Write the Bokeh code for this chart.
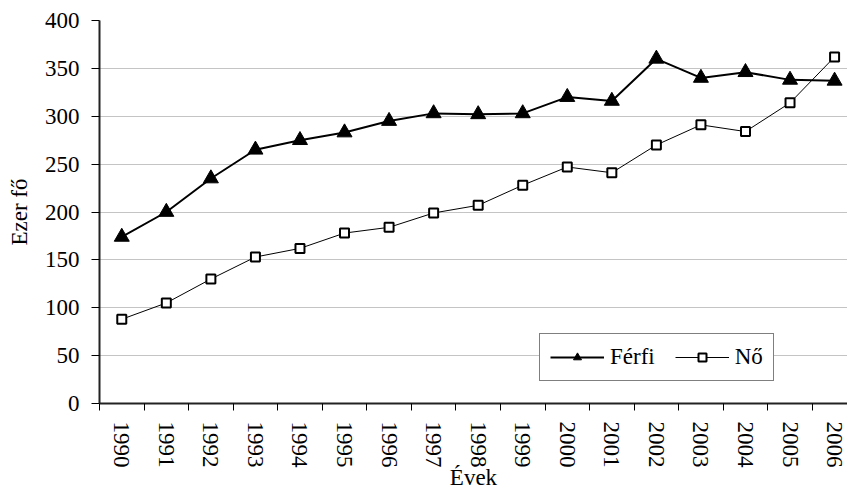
from bokeh.plotting import figure
from bokeh.models import FixedTicker, Legend, LegendItem, Range1d
from bokeh.embed import file_html
from bokeh.resources import INLINE

years = list(range(1990, 2007))
ferfi = [174, 200, 235, 265, 275, 283, 295, 303, 302, 303, 320, 316, 360, 340, 346, 338, 337]
no = [88, 105, 130, 153, 162, 178, 184, 199, 207, 228, 247, 241, 270, 291, 284, 314, 362]
y_ticks = [0, 50, 100, 150, 200, 250, 300, 350, 400]
x_title = "Évek"
y_title = "Ezer fő"
series_names = ["Férfi", "Nő"]

FONT = "Liberation Serif"
FS = "23px"

p = figure(width=847, height=493, output_backend="svg", toolbar_location=None,
           x_range=Range1d(1989.5, 2006.29), y_range=Range1d(0, 400),
           min_border_left=99, min_border_right=0, min_border_top=20, min_border_bottom=90)
p.outline_line_color = None
p.background_fill_color = "white"
p.border_fill_color = "white"

# x axis
p.xaxis.ticker = FixedTicker(ticks=years, minor_ticks=[y - 0.5 for y in years] + [2006.5])
p.xaxis.major_tick_line_color = None
p.xaxis.major_tick_out = 7
p.xaxis.major_tick_in = 0
p.xaxis.minor_tick_out = 7
p.xaxis.minor_tick_in = 0
p.xaxis.minor_tick_line_color = "black"
p.xaxis.minor_tick_line_width = 1
p.xaxis.major_label_orientation = "vertical"
p.xaxis.major_label_standoff = 11
p.xaxis.major_label_overrides = {y: str(y) for y in years}
p.xaxis.axis_label = x_title
p.xaxis.axis_label_standoff = -6

# y axis
p.yaxis.ticker = FixedTicker(ticks=y_ticks)
p.yaxis.major_tick_out = 8
p.yaxis.major_tick_in = 0
p.yaxis.minor_tick_line_color = None
p.yaxis.major_label_standoff = 12
p.yaxis.axis_label = y_title
p.yaxis.axis_label_standoff = 10

for ax in (p.xaxis, p.yaxis):
    ax.axis_line_color = "#222222"
    ax.axis_line_width = 2
    ax.major_tick_line_width = 1
    ax.major_label_text_font = FONT
    ax.major_label_text_font_size = FS
    ax.major_label_text_color = "black"
    ax.axis_label_text_font = FONT
    ax.axis_label_text_font_size = FS
    ax.axis_label_text_font_style = "normal"
    ax.axis_label_text_color = "black"

p.xgrid.visible = False
p.ygrid.ticker = FixedTicker(ticks=y_ticks)
p.ygrid.grid_line_color = "#c4c4c4"
p.ygrid.grid_line_width = 1

r1 = p.line(years, ferfi, line_color="black", line_width=2)
r2 = p.line(years, no, line_color="black", line_width=1)
s1 = p.scatter(years, ferfi, marker="triangle", size=15, fill_color="black", line_color="black")
s2 = p.scatter(years, no, marker="square", size=9, fill_color="white", line_color="black", line_width=2)

legend = Legend(items=[LegendItem(label=series_names[0], renderers=[r1, s1]),
                       LegendItem(label=series_names[1], renderers=[r2, s2])],
                location=(440, 22), orientation="horizontal",
                border_line_color="black", border_line_width=1,
                background_fill_color="white", background_fill_alpha=1,
                label_text_font=FONT, label_text_font_size=FS, label_text_color="black",
                glyph_width=54, glyph_height=20, label_standoff=6, spacing=20,
                padding=10, margin=0, label_height=20)
p.add_layout(legend)

open("out.html", "w").write(file_html(p, INLINE))
